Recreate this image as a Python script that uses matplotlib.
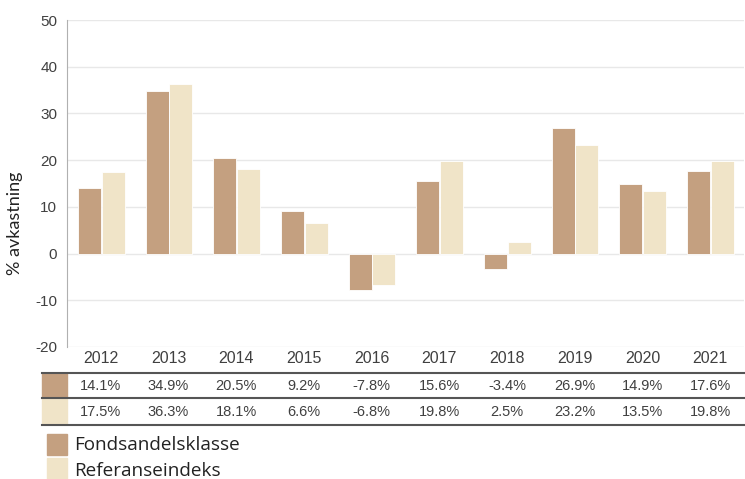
import numpy as np
import matplotlib.pyplot as plt
from matplotlib.patches import Rectangle
from matplotlib.lines import Line2D
import matplotlib.transforms as mtransforms

# Data
years = ['2012', '2013', '2014', '2015', '2016', '2017', '2018', '2019', '2020', '2021']
fond = [14.1, 34.9, 20.5, 9.2, -7.8, 15.6, -3.4, 26.9, 14.9, 17.6]
referanse = [17.5, 36.3, 18.1, 6.6, -6.8, 19.8, 2.5, 23.2, 13.5, 19.8]
labels = ['Fondsandelsklasse', 'Referanseindeks']

brown = '#c4a080'
beige = '#f0e4c8'
txt = '#404040'

plt.rcParams['axes.unicode_minus'] = False

fig = plt.figure(figsize=(7.45, 4.79), dpi=100)
W, H = 745, 479
ax = fig.add_axes([67 / W, 1 - 347 / H, (744 - 67) / W, (347 - 20) / H])

x = np.arange(len(years))
w = 0.34
ax.bar(x - w / 2, fond, w, color=brown, edgecolor='white', linewidth=0.6, zorder=3)
ax.bar(x + w / 2 + 0.01, referanse, w, color=beige, edgecolor='white', linewidth=0.6, zorder=3)

ax.set_xlim(-0.5, len(years) - 0.5)
ax.set_ylim(-20, 50)
ax.set_yticks(np.arange(-20, 51, 10))
ax.yaxis.grid(True, color='#e8e8e8', linewidth=1)
ax.set_axisbelow(True)
for s in ['top', 'right', 'bottom']:
    ax.spines[s].set_visible(False)
ax.spines['left'].set_color('#b0b0b0')
ax.tick_params(axis='y', length=0, pad=7, labelsize=11, labelcolor=txt)
ax.set_xticks(x)
ax.set_xticklabels(years, fontsize=11.5, color=txt, family='Liberation Sans')
ax.tick_params(axis='x', length=0, pad=3)
for lab in ax.get_yticklabels():
    lab.set_family('Liberation Sans')

# y label centred over chart + table
fig.text(15 / W, 1 - 223 / H, '% avkastning', rotation=90, fontsize=13, color='#222222',
         family='Lato', ha='center', va='center')

# Table under the chart
trans = mtransforms.blended_transform_factory(ax.transData, fig.transFigure)
for yy in [373, 398, 425]:
    fig.add_artist(Line2D([42 / W, 744 / W], [1 - yy / H, 1 - yy / H],
                          color='#555555', linewidth=1.5))
fig.add_artist(Rectangle((42 / W, 1 - 397 / H), 25 / W, 24 / H, color=brown, zorder=0))
fig.add_artist(Rectangle((42 / W, 1 - 424 / H), 25 / W, 25 / H, color=beige, zorder=0))
for i in range(len(years)):
    ax.text(x[i], 1 - 385.5 / H, f'{fond[i]:.1f}%', transform=trans, ha='center', va='center',
            fontsize=10.5, color=txt, family='Liberation Sans')
    ax.text(x[i], 1 - 411.5 / H, f'{referanse[i]:.1f}%', transform=trans, ha='center', va='center',
            fontsize=10.5, color=txt, family='Liberation Sans')

# Legend
fig.add_artist(Rectangle((47 / W, 1 - 455 / H), 20 / W, 21 / H, color=brown))
fig.add_artist(Rectangle((47 / W, 1 - 479 / H), 20 / W, 21 / H, color=beige))
fig.text(74 / W, 1 - 445 / H, labels[0], fontsize=13.6, color='#222222', family='Open Sans', va='center')
fig.text(74 / W, 1 - 471 / H, labels[1], fontsize=13.6, color='#222222', family='Open Sans', va='center')

fig.savefig('out.png', dpi=100)
